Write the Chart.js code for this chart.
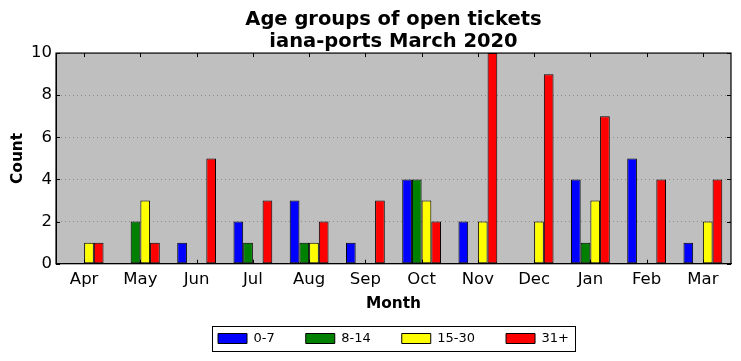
<!DOCTYPE html>
<html lang="en">
<head>
  <meta charset="UTF-8" />
  <title>Age groups of open tickets</title>
  <style>
    * { margin: 0; padding: 0; box-sizing: border-box; }
    body { background: white; }
    #wrap { width: 741px; height: 361px; }
  </style>
</head>
<body>
  <div id="wrap"><canvas id="chartCanvas" width="741" height="361"></canvas></div>

  <script src="https://cdn.jsdelivr.net/npm/chart.js"></script>
  <script>
    const months = ['Apr', 'May', 'Jun', 'Jul', 'Aug', 'Sep', 'Oct', 'Nov', 'Dec', 'Jan', 'Feb', 'Mar'];
    const age0to7 = [0, 0, 1, 2, 3, 1, 4, 2, 0, 4, 5, 1];
    const age8to14 = [0, 2, 0, 1, 1, 0, 4, 0, 0, 1, 0, 0];
    const age15to30 = [1, 3, 0, 0, 1, 0, 3, 2, 2, 3, 0, 2];
    const age31plus = [1, 1, 5, 3, 2, 3, 2, 10, 9, 7, 4, 4];
    const yTicks = [0, 2, 4, 6, 8, 10];

    const font = 'DejaVu Sans';

    // grey plot background, inward tick marks, legend frame
    const decor = {
      id: 'decor',
      afterLayout(chart) {
        // title and legend are centred under the plot area, not the canvas
        const a = chart.chartArea;
        const mid = (a.left + a.right) / 2;
        [chart.titleBlock, chart.legend].forEach(b => {
          const d = mid - (b.left + b.right) / 2;
          b.left += d;
          b.right += d;
        });
      },
      beforeDraw(chart) {
        const a = chart.chartArea, c = chart.ctx;
        c.save();
        c.fillStyle = '#bfbfbf';
        c.fillRect(a.left, a.top, a.right - a.left, a.bottom - a.top);
        c.restore();
      },
      afterDraw(chart) {
        const a = chart.chartArea, c = chart.ctx;
        const x = chart.scales.x, y = chart.scales.y;
        c.save();
        c.strokeStyle = '#000';
        c.lineWidth = 1;
        c.beginPath();
        months.forEach((m, i) => {
          const px = Math.round(x.getPixelForValue(i)) + 0.5;
          c.moveTo(px, a.top); c.lineTo(px, a.top + 4);
          c.moveTo(px, a.bottom); c.lineTo(px, a.bottom - 4);
        });
        yTicks.forEach(v => {
          const py = Math.round(y.getPixelForValue(v)) + 0.5;
          c.moveTo(a.left, py); c.lineTo(a.left + 4, py);
          c.moveTo(a.right, py); c.lineTo(a.right - 4, py);
        });
        c.stroke();
        c.lineWidth = 1.2;
        c.strokeRect(a.left, a.top, a.right - a.left, a.bottom - a.top);
        // legend frame
        const boxes = chart.legend.legendHitBoxes;
        if (boxes && boxes.length) {
          const last = boxes[boxes.length - 1];
          const l = boxes[0].left - 6, r = last.left + last.width + 6;
          const t = boxes[0].top - 6, b = boxes[0].top + boxes[0].height + 6;
          c.lineWidth = 1;
          c.strokeRect(Math.round(l) + 0.5, Math.round(t) + 0.5, Math.round(r - l), Math.round(b - t));
        }
        c.restore();
      }
    };

    const ds = (label, data, color) => ({
      label, data,
      backgroundColor: color,
      borderColor: '#000',
      borderWidth: 1,
      borderSkipped: false,
      inflateAmount: 0
    });

    new Chart(document.getElementById('chartCanvas'), {
      type: 'bar',
      data: {
        labels: months,
        datasets: [
          ds('0-7', age0to7, '#0000ff'),
          ds('8-14', age8to14, '#008000'),
          ds('15-30', age15to30, '#ffff00'),
          ds('31+', age31plus, '#ff0000')
        ]
      },
      options: {
        responsive: false,
        animation: false,
        layout: { padding: { left: 0, right: 10, top: 9, bottom: 6 } },
        datasets: { bar: { categoryPercentage: 0.69, barPercentage: 1.0 } },
        plugins: {
          title: {
            display: true,
            text: ['Age groups of open tickets', 'iana-ports March 2020'],
            color: '#000',
            font: { family: font, size: 19.5, weight: 'bold', lineHeight: 1.13 },
            padding: { top: 0, bottom: 0 }
          },
          legend: {
            position: 'bottom',
            labels: {
              color: '#000',
              font: { family: font, size: 13 },
              boxWidth: 29,
              boxHeight: 10,
              padding: 31,
              useBorderRadius: false
            }
          },
          tooltip: { enabled: false }
        },
        scales: {
          x: {
            grid: { display: false, drawTicks: false },
            border: { display: true, color: '#000' },
            ticks: { color: '#000', font: { family: font, size: 16.5 }, padding: 6 },
            title: { display: true, text: 'Month', color: '#000', font: { family: font, size: 15.4, weight: 'bold' }, padding: { top: -1, bottom: -12 } }
          },
          y: {
            min: 0, max: 10,
            afterBuildTicks(s) { s.ticks = yTicks.map(v => ({ value: v })); },
            afterFit(s) { s.width = 56; },
            grid: {
              color: ctx => (ctx.tick.value === 0 || ctx.tick.value === 10) ? 'rgba(0,0,0,0)' : '#8a8a8a',
              lineWidth: 1,
              drawTicks: false
            },
            border: { display: true, color: '#000', dash: [1, 3] },
            ticks: { color: '#000', font: { family: font, size: 16.5 }, padding: 4 },
            title: { display: true, text: 'Count', color: '#000', font: { family: font, size: 15.4, weight: 'bold' }, padding: { top: 9, bottom: 0 } }
          }
        }
      },
      plugins: [decor]
    });
  </script>
</body>
</html>
